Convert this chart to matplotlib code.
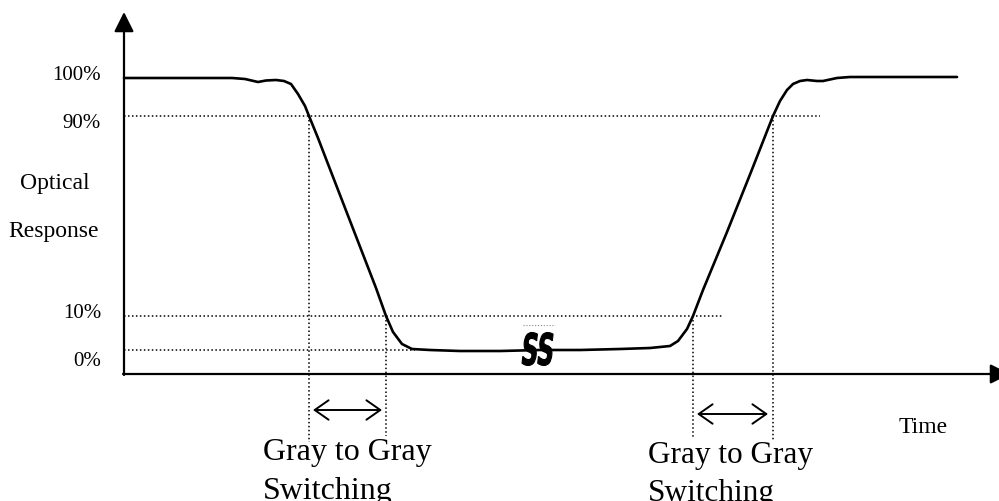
import matplotlib
matplotlib.use("Agg")
import matplotlib.pyplot as plt
from matplotlib.textpath import TextPath
from matplotlib.font_manager import FontProperties
from matplotlib.patches import PathPatch
from matplotlib.transforms import Affine2D

# schematic drawn in pixel-like units (x right, y down)
curve_x = [124, 200, 232, 245, 258, 266, 276, 284, 291, 298, 305, 309, 318,
           328, 340, 352, 364, 376, 386, 393, 402, 412, 430, 460, 500,
           540, 580, 620, 650, 670, 678, 687, 693, 703, 715, 727, 739, 751,
           762, 773, 780, 787, 793, 800, 807, 817, 823, 837, 850, 900, 957]
curve_y = [79, 79, 79, 80, 83, 81.5, 81, 82, 85, 95, 107, 117, 139,
           165, 196, 227, 258, 289, 317, 333, 345, 350, 351, 352, 352,
           351, 351, 350, 349, 347, 342, 330, 317, 291, 262, 233, 203, 173,
           145, 117, 102, 91, 85, 82, 81, 82, 82, 79, 78, 78, 78]

level_labels = ["100%", "90%", "10%", "0%"]
level_label_y = [76, 124, 314, 362]

# dotted reference lines: y and where they stop
ref_y = [116.5, 317, 351]
ref_x_end = [820, 722, 415]

# dotted drop lines
drop_x = [309, 386, 693, 773]
drop_y0 = [116.5, 317, 317, 116.5]
drop_y1 = [443, 437, 440, 442]

# switching-interval arrows
span_x0 = [313, 697]
span_x1 = [382, 768]
span_y = [411, 415]

AXIS_X = 124
AXIS_Y = 375
SERIF = "Liberation Serif"


def draw_break_mark(ax, cx, cy, w, h):
    tp = TextPath((0, 0), "SS", size=1,
                  prop=FontProperties(family="DejaVu Sans", weight="bold"))
    ext = tp.get_extents()
    tr = (Affine2D()
          .translate(-(ext.x0 + ext.x1) / 2, -(ext.y0 + ext.y1) / 2)
          .skew_deg(12, 0)
          .scale(w / ext.width, -h / ext.height)
          .translate(cx, cy))
    ax.add_patch(PathPatch(tr.transform_path(tp), facecolor="black",
                           edgecolor="black", lw=0.8))


def draw_chart():
    fig = plt.figure(figsize=(9.99, 5.02), dpi=100)
    ax = fig.add_axes([0, 0, 1, 1])
    ax.set_xlim(0, 999)
    ax.set_ylim(502, 0)
    ax.axis("off")

    # axes with arrow heads
    head = "-|>,head_length=0.6,head_width=0.3"
    ax.annotate("", xy=(AXIS_X, 13), xytext=(AXIS_X, AXIS_Y + 1),
                arrowprops=dict(arrowstyle=head, color="black", lw=1.6,
                                mutation_scale=20, shrinkA=0, shrinkB=0),
                annotation_clip=False)
    ax.annotate("", xy=(1010, AXIS_Y), xytext=(AXIS_X - 1, AXIS_Y),
                arrowprops=dict(arrowstyle=head, color="black", lw=1.6,
                                mutation_scale=20, shrinkA=0, shrinkB=0),
                annotation_clip=False)

    dots = (0, (1, 1.6))
    for y, xe in zip(ref_y, ref_x_end):
        ax.plot([AXIS_X, xe], [y, y], color="black", lw=1.1, linestyle=dots)
    for x, y0, y1 in zip(drop_x, drop_y0, drop_y1):
        ax.plot([x, x], [y0, y1], color="black", lw=1.1, linestyle=dots)

    # response curve
    ax.plot(curve_x, curve_y, color="black", lw=1.9,
            solid_joinstyle="round", solid_capstyle="round")

    # break mark on the flat part
    ax.plot([523, 555], [326, 326], color="#888888", lw=0.8, linestyle=dots)
    draw_break_mark(ax, 538, 350, 29, 33)

    for x0, x1, y in zip(span_x0, span_x1, span_y):
        ax.annotate("", xy=(x1, y), xytext=(x0, y),
                    arrowprops=dict(arrowstyle="<->,head_length=0.5,head_width=0.35",
                                    color="black", lw=1.4, mutation_scale=20,
                                    shrinkA=0, shrinkB=0))

    for lab, y in zip(level_labels, level_label_y):
        ax.text(101, y, lab, fontsize=15, family=SERIF, ha="right", va="center")

    ax.text(55, 184, "Optical", fontsize=17, family=SERIF, ha="center", va="center")
    ax.text(54, 232, "Response", fontsize=17, family=SERIF, ha="center", va="center")
    ax.text(899, 433, "Time", fontsize=17, family=SERIF, ha="left", va="baseline")

    ax.text(263, 460, "Gray to Gray", fontsize=23, family=SERIF, va="baseline")
    ax.text(263, 499, "Switching", fontsize=23, family=SERIF, va="baseline")
    ax.text(648, 463, "Gray to Gray", fontsize=22.5, family=SERIF, va="baseline")
    ax.text(648, 501, "Switching", fontsize=22.5, family=SERIF, va="baseline")

    fig.savefig("out.png", dpi=100)
    plt.close(fig)


def main():
    draw_chart()


main()
